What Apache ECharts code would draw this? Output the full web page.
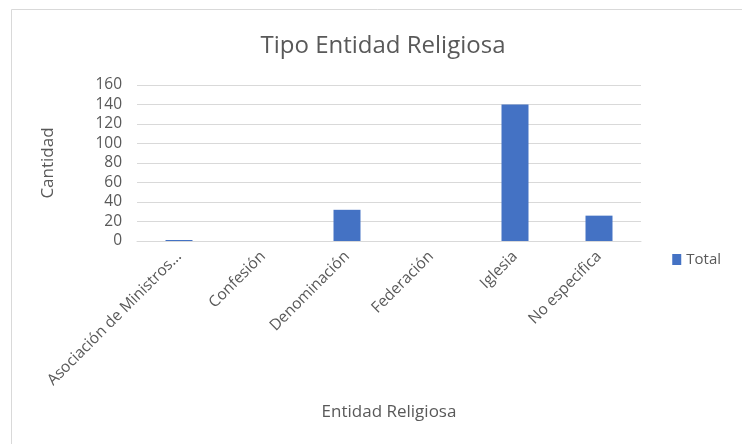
<!DOCTYPE html>
<html>
<head>
<meta charset="utf-8">
<script src="https://cdn.jsdelivr.net/npm/echarts@6/dist/echarts.min.js"></script>
<style>
  html, body { margin: 0; padding: 0; background: #fff; }
  #chart { width: 742px; height: 444px; }
</style>
</head>
<body>
<div id="chart"></div>
<script>
// data
var categories = ['Asociación de Ministros...', 'Confesión', 'Denominación', 'Federación', 'Iglesia', 'No especifica'];
var totals = [1, 0, 32, 0, 140, 26];
var yTicks = [0, 20, 40, 60, 80, 100, 120, 140, 160];

var txtColor = '#595959';
var font = 'Open Sans';

var myChart = echarts.init(document.getElementById('chart'));

myChart.setOption({
    backgroundColor: '#fff',
    animation: false,
    textStyle: { fontFamily: font },
    title: {
        text: 'Tipo Entidad Religiosa',
        left: 378,
        textAlign: 'center',
        top: 29,
        textStyle: { fontSize: 24, fontWeight: 'normal', color: txtColor, fontFamily: font }
    },
    graphic: [{
        type: 'rect',
        shape: { x: 11.5, y: 9.5, width: 740, height: 440 },
        style: { fill: 'none', stroke: '#d9d9d9', lineWidth: 1 },
        silent: true
    }],
    legend: {
        data: ['Total'],
        right: 16,
        top: 247,
        icon: 'rect',
        itemWidth: 9,
        itemHeight: 11,
        itemGap: 4,
        textStyle: { fontSize: 15, color: txtColor, fontFamily: font }
    },
    grid: {
        left: 137,
        right: 101,
        top: 85,
        bottom: 203,
        containLabel: false
    },
    xAxis: {
        type: 'category',
        data: categories,
        name: 'Entidad Religiosa',
        nameLocation: 'middle',
        nameGap: 163,
        nameTextStyle: { fontSize: 17, color: txtColor, fontFamily: font },
        axisLine: { show: true, lineStyle: { color: '#d9d9d9' } },
        axisTick: { show: false },
        axisLabel: {
            rotate: 45,
            interval: 0,
            fontSize: 15.5,
            color: txtColor,
            margin: 13,
            fontFamily: font
        }
    },
    yAxis: {
        type: 'value',
        min: yTicks[0],
        max: yTicks[yTicks.length - 1],
        interval: yTicks[1] - yTicks[0],
        name: 'Cantidad',
        nameLocation: 'middle',
        nameGap: 80,
        nameRotate: 90,
        nameTextStyle: { fontSize: 17, color: txtColor, fontFamily: font },
        axisLine: { show: false },
        axisTick: { show: false },
        axisLabel: { fontSize: 15.5, color: txtColor, margin: 15, fontFamily: font },
        splitLine: { show: true, lineStyle: { color: '#d9d9d9' } }
    },
    series: [{
        name: 'Total',
        type: 'bar',
        data: totals,
        barWidth: 27,
        itemStyle: { color: '#4472c4' }
    }]
});
</script>
</body>
</html>
